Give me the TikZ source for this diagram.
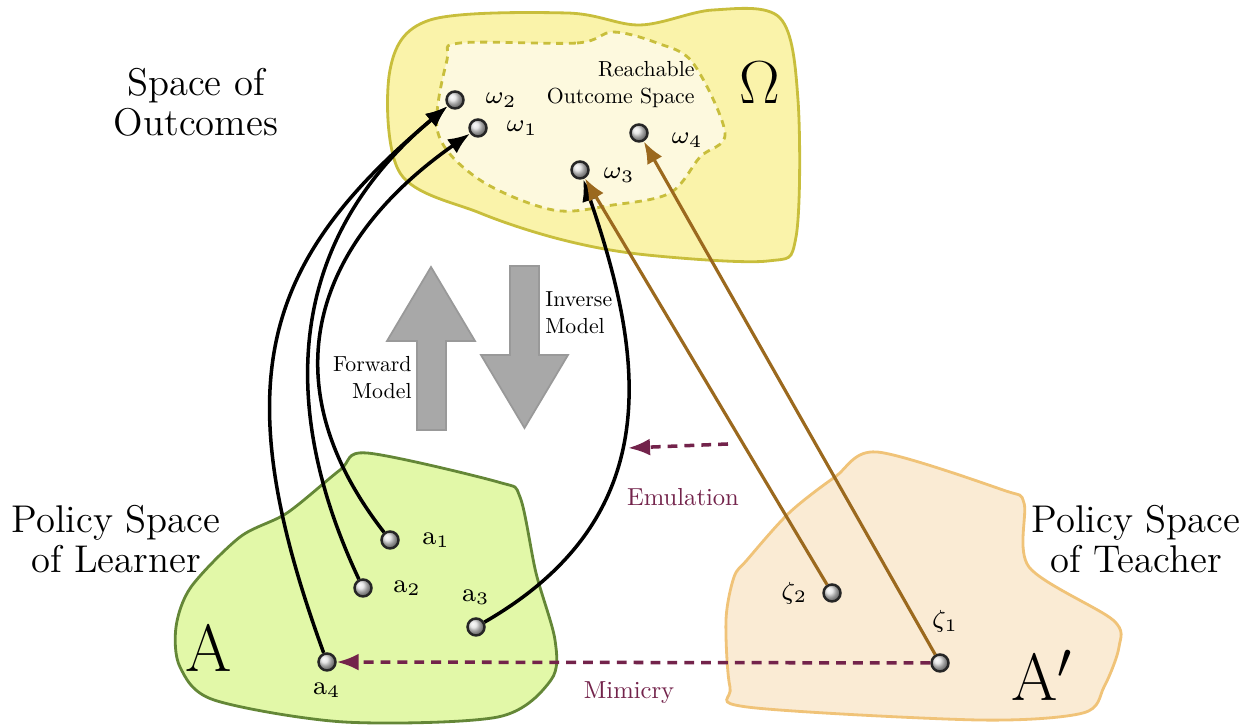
\documentclass[tikz,border=0pt]{standalone}
\usetikzlibrary{positioning,arrows.meta}

\definecolor{outyellow}{RGB}{250,243,170}
\definecolor{inyellow}{RGB}{253,249,222}
\definecolor{yellowline}{RGB}{200,190,60}
\definecolor{greenfill}{RGB}{226,248,168}
\definecolor{greenline}{RGB}{100,135,55}
\definecolor{orangefill}{RGB}{250,235,212}
\definecolor{orangeline}{RGB}{240,195,120}
\definecolor{teachbrown}{RGB}{155,105,30}
\definecolor{copypurple}{RGB}{115,35,75}
\definecolor{modelgray}{RGB}{168,168,168}

\begin{document}
\begin{tikzpicture}[>={Latex[length=2.2mm,width=1.7mm]},
	dot node/.style={circle,draw=black!85,line width=0.7pt,ball color=black!12,minimum size=1.7mm,inner sep=0pt},
	pt label/.style={inner sep=0pt,font=\fontsize{7.5}{9}\selectfont},
	space label/.style={align=center,font=\fontsize{11}{11.4}\selectfont},
	set name/.style={font=\fontsize{19}{22}\selectfont},
	note/.style={inner sep=0pt,font=\fontsize{10}{12.4}\selectfont,scale=0.62,transform shape},
	copy note/.style={inner sep=0pt,text=copypurple,font=\fontsize{10}{12}\selectfont,scale=0.7,transform shape},
	link/.style={->,line width=1pt},
	teach link/.style={->,line width=0.9pt,draw=teachbrown,fill=teachbrown},
	copy link/.style={->,line width=1pt,draw=copypurple,dash pattern=on 2.8pt off 2pt},
	model arrow/.style={fill=modelgray,draw=black!40,line width=0.5pt}]
				
				\useasboundingbox (0,0) rectangle (12.55,7.25);
				
				% spaces
				\filldraw[draw=yellowline,fill=outyellow,line width=0.8pt] plot[smooth cycle,tension=0.55] coordinates {(4.30,7.05) (5.67,7.12) (6.40,7.00) (7.13,7.15) (7.80,7.07) (7.98,6.25) (7.96,4.88) (7.68,4.64) (6.47,4.70) (5.63,4.85) (4.80,5.12) (4.00,5.52) (3.90,6.55)};
				\filldraw[draw=yellowline,fill=inyellow,line width=0.8pt,dash pattern=on 2pt off 1.6pt] plot[smooth cycle,tension=0.55] coordinates {(4.60,6.82) (5.77,6.82) (6.13,6.93) (6.57,6.82) (6.93,6.62) (7.25,5.92) (7.00,5.68) (6.70,5.32) (6.13,5.20) (5.53,5.15) (4.80,5.45) (4.38,5.92) (4.47,6.65)};
				\filldraw[draw=greenline,fill=greenfill,line width=0.8pt] plot[smooth cycle,tension=0.5] coordinates {(3.67,2.72) (4.98,2.43) (5.20,2.28) (5.36,1.52) (5.55,0.85) (5.51,0.45) (4.98,0.08) (3.44,0.03) (2.14,0.25) (1.80,0.58) (1.76,0.98) (1.91,1.38) (2.40,1.88) (2.87,2.12) (3.40,2.55)};
				\filldraw[draw=orangeline,fill=orangefill,line width=0.8pt] plot[smooth cycle,tension=0.5] coordinates {(8.77,2.73) (10.03,2.35) (10.24,2.22) (10.29,1.58) (11.13,1.05) (11.19,0.78) (11.04,0.38) (10.83,0.12) (9.78,0.05) (7.47,0.18) (7.30,0.38) (7.26,1.05) (7.34,1.48) (7.47,1.65) (7.89,2.12) (8.35,2.48)};
				
				% forward / inverse
				\filldraw[model arrow] (4.17,2.95) -- (4.17,3.84) -- (3.87,3.84) -- (4.31,4.58) -- (4.75,3.84) -- (4.46,3.84) -- (4.46,2.95) -- cycle;
				\filldraw[model arrow] (5.10,4.59) -- (5.10,3.70) -- (4.81,3.70) -- (5.245,2.97) -- (5.68,3.70) -- (5.39,3.70) -- (5.39,4.59) -- cycle;
				
				\node[space label] (outcome title) at (1.96,6.23) {Space of\\Outcomes};
				\node[space label] (learner title) at (1.16,1.86) {Policy Space\\of Learner};
				\node[space label] (teacher title) at (11.36,1.86) {Policy Space\\of Teacher};
				\node[set name] (omega) at (7.60,6.42) {$\Omega$};
				\node[set name] (set a) at (2.09,0.77) {A};
				\node[set name] (set a2) at (10.42,0.50) {A$'$};
				\node[note,align=right,anchor=east] (reach) at (6.95,6.40) {Reachable\\Outcome Space};
				\node[note,align=right,anchor=east] (fwd) at (4.12,3.47) {Forward\\Model};
				\node[note,align=left,anchor=west] (inv) at (5.45,4.12) {Inverse\\Model};
				\node[copy note] (emu) at (6.83,2.28) {Emulation};
				\node[copy note] (mim) at (6.29,0.32) {Mimicry};
				
				% outcomes
				\node[dot node] (w2) at (4.55,6.25) {};
				\node[dot node] (w1) at (4.78,5.97) {};
				\node[dot node] (w4) at (6.39,5.92) {};
				\node[dot node] (w3) at (5.80,5.55) {};
				\node[pt label] (lw2) [right=2mm of w2] {$\omega_2$};
				\node[pt label] (lw1) [right=1.8mm of w1] {$\omega_1$};
				\node[pt label] (lw4) [right=2.2mm of w4,yshift=-0.7mm] {$\omega_4$};
				\node[pt label] (lw3) [right=1.3mm of w3,yshift=-0.5mm] {$\omega_3$};
				
				% learner
				\node[dot node] (a1) at (3.90,1.85) {};
				\node[dot node] (a2) at (3.63,1.37) {};
				\node[dot node] (a3) at (4.76,0.98) {};
				\node[dot node] (a4) at (3.27,0.63) {};
				\node[pt label] (la1) [right=2.2mm of a1] {a$_1$};
				\node[pt label] (la2) [right=2mm of a2] {a$_2$};
				\node[pt label] (la3) [above=1.2mm of a3] {a$_3$};
				\node[pt label] (la4) [below=1mm of a4] {a$_4$};
				
				% teacher
				\node[dot node] (z2) at (8.32,1.32) {};
				\node[dot node] (z1) at (9.40,0.62) {};
				\node[pt label] (lz2) [left=1.4mm of z2] {$\zeta_2$};
				\node[pt label] (lz1) [above=2mm of z1,xshift=0.5mm] {$\zeta_1$};
				
				\draw[link] (a4) .. controls (2.24,3.45) and (2.63,4.64) .. (w2);
				\draw[link] (a2) .. controls (2.78,3.18) and (2.86,4.84) .. (w2);
				\draw[link] (a1) .. controls (2.67,3.43) and (3.14,4.82) .. (w1);
				\draw[link] (a3) .. controls (6.67,2.08) and (6.45,3.66) .. (w3);
				
				\draw[teach link] (z2) -- (w3);
				\draw[teach link] (z1) -- (w4);
				
				\coordinate (emu from) at (7.28,2.81);
				\coordinate (emu to) at (6.28,2.77);
				\draw[copy link] (emu from) -- (emu to);
				\draw[copy link] (z1) -- (a4);
				
\end{tikzpicture}
\end{document}
